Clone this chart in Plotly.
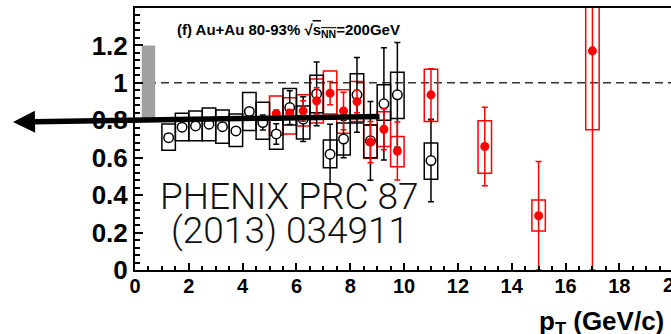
import plotly.graph_objects as go

# ---- data ----
black_x = [1.25, 1.75, 2.25, 2.75, 3.25, 3.75, 4.25, 4.75, 5.25, 5.75, 6.25, 6.75, 7.25, 7.75, 8.25, 8.75, 9.25, 9.75, 11.0]
black_y = [0.707, 0.763, 0.770, 0.779, 0.766, 0.743, 0.847, 0.788, 0.727, 0.868, 0.806, 0.941, 0.619, 0.700, 0.936, 0.690, 0.888, 0.936, 0.585]
black_stat = [0.008, 0.008, 0.008, 0.010, 0.012, 0.015, 0.020, 0.040, 0.055, 0.090, 0.120, 0.170, 0.160, 0.100, 0.200, 0.210, 0.300, 0.280, 0.220]
black_sys_lo = [0.640, 0.690, 0.690, 0.690, 0.677, 0.660, 0.745, 0.699, 0.645, 0.775, 0.700, 0.840, 0.547, 0.615, 0.785, 0.600, 0.800, 0.810, 0.485]
black_sys_hi = [0.780, 0.838, 0.850, 0.865, 0.855, 0.833, 0.948, 0.897, 0.800, 0.970, 0.877, 1.040, 0.695, 0.785, 1.048, 0.775, 0.990, 1.057, 0.678]

red_x = [5.25, 5.75, 6.25, 6.75, 7.25, 7.75, 8.25, 8.75, 9.25, 9.75, 11.0, 13.0, 15.0, 17.0]
red_y = [0.835, 0.838, 0.850, 0.904, 0.945, 0.850, 0.900, 0.683, 0.752, 0.636, 0.936, 0.660, 0.290, 1.171]
red_stat = [0.020, 0.020, 0.055, 0.070, 0.062, 0.100, 0.060, 0.110, 0.110, 0.155, 0.140, 0.210, 0.290, 1.171]
red_sys_lo = [0.720, 0.727, 0.770, 0.785, 0.834, 0.731, 0.793, 0.597, 0.660, 0.552, 0.793, 0.517, 0.209, 0.749]
red_sys_hi = [0.930, 0.920, 0.936, 1.020, 1.064, 0.963, 1.007, 0.775, 0.846, 0.713, 1.073, 0.797, 0.374, 1.593]

box_width = 0.5
norm_band = (0.25, 0.75, 0.80, 1.20)   # x0, x1, y0, y1
x_ticks = list(range(0, 21, 2))
y_ticks = [0, 0.2, 0.4, 0.6, 0.8, 1.0, 1.2]
y_tick_text = ["0", "0.2", "0.4", "0.6", "0.8", "1", "1.2"]

# ---- layout geometry ----
W, H = 671, 334
L, R, T, B = 135, 0, 8, 64
PW, PH = W - L - R, H - T - B
X_MAX = 19.92
Y_MAX = 1.4

def px2paper_x(px):
    return (px - L) / PW

def px2paper_y(py):
    return (H - B - py) / PH

fig = go.Figure()

# systematic boxes
fig.add_trace(go.Bar(
    x=red_x, base=red_sys_lo, y=[h - l for h, l in zip(red_sys_hi, red_sys_lo)],
    width=box_width, marker=dict(color="rgba(0,0,0,0)", line=dict(color="#ff0000", width=1.5)),
    showlegend=False, hoverinfo="skip"))
fig.add_trace(go.Bar(
    x=black_x, base=black_sys_lo, y=[h - l for h, l in zip(black_sys_hi, black_sys_lo)],
    width=box_width, marker=dict(color="rgba(0,0,0,0)", line=dict(color="#000000", width=1.5)),
    showlegend=False, hoverinfo="skip"))

# points with stat errors
fig.add_trace(go.Scatter(
    x=black_x, y=black_y, mode="markers",
    marker=dict(symbol="circle", size=9.5, color="white", line=dict(color="black", width=1.5)),
    error_y=dict(type="data", array=black_stat, color="black", thickness=1.5, width=3),
    showlegend=False))
fig.add_trace(go.Scatter(
    x=red_x, y=red_y, mode="markers",
    marker=dict(symbol="circle", size=9, color="#ff0000", line=dict(width=0)),
    error_y=dict(type="data", array=red_stat, color="#ff0000", thickness=1.5, width=3),
    showlegend=False))

fig.update_layout(
    width=W, height=H, margin=dict(l=L, r=R, t=T, b=B),
    paper_bgcolor="white", plot_bgcolor="white", barmode="overlay",
    shapes=[
        dict(type="rect", xref="x", yref="y", x0=norm_band[0], x1=norm_band[1],
             y0=norm_band[2], y1=norm_band[3], fillcolor="#a0a0a0", line=dict(width=0), layer="below"),
        dict(type="line", xref="paper", yref="y", x0=0, x1=1, y0=1, y1=1,
             line=dict(color="#333333", width=1.5, dash="8px,5px"), layer="below"),
    ],
)

fig.update_xaxes(
    range=[0, X_MAX], showgrid=False, zeroline=False,
    showline=True, linecolor="black", linewidth=2, mirror=True,
    ticks="inside", ticklen=7, tickwidth=1.5, tickcolor="black",
    tickvals=x_ticks, ticktext=[str(v) for v in x_ticks], ticklabelstandoff=-3,
    tickfont=dict(family="Liberation Sans", size=20, color="black", weight="bold"),
    minor=dict(dtick=0.5, ticks="inside", ticklen=4, tickwidth=1.5, tickcolor="black"),
)
fig.update_yaxes(
    range=[0, Y_MAX], showgrid=False, zeroline=False,
    showline=True, linecolor="black", linewidth=2, mirror=False,
    ticks="inside", ticklen=8, tickwidth=1.5, tickcolor="black",
    tickvals=y_ticks, ticktext=y_tick_text,
    tickfont=dict(family="Liberation Sans", size=26, color="black", weight="bold"),
    minor=dict(dtick=0.04, ticks="inside", ticklen=5, tickwidth=1.5, tickcolor="black"),
)

annotations = [
    dict(text="(f) Au+Au 80-93% \u221a<span style='text-decoration:overline'>s<sub>NN</sub></span>=200GeV",
         xref="paper", yref="paper", x=px2paper_x(175), y=px2paper_y(31), xanchor="left", yanchor="middle",
         showarrow=False, font=dict(family="Liberation Sans", size=15, color="black", weight="bold")),
    dict(text="PHENIX PRC 87", xref="paper", yref="paper", x=px2paper_x(289), y=px2paper_y(196),
         xanchor="center", yanchor="middle", showarrow=False,
         font=dict(family="Roboto", size=37, color="#111111", weight=300)),
    dict(text="(2013) 034911", xref="paper", yref="paper", x=px2paper_x(290), y=px2paper_y(230),
         xanchor="center", yanchor="middle", showarrow=False,
         font=dict(family="Roboto", size=37, color="#111111", weight=300)),
    dict(text="<b>p<sub>T</sub> (GeV/c)</b>", xref="paper", yref="paper", x=px2paper_x(666), y=px2paper_y(322),
         xanchor="right", yanchor="middle", showarrow=False,
         font=dict(family="Liberation Sans", size=26, color="black")),
    dict(text="20", xref="paper", yref="paper", x=px2paper_x(674), y=px2paper_y(285),
         xanchor="center", yanchor="middle", showarrow=False,
         font=dict(family="Liberation Sans", size=20, color="black", weight="bold")),
    dict(text="", xref="paper", yref="paper", x=px2paper_x(13), y=px2paper_y(122),
         axref="pixel", ayref="pixel", ax=368, ay=-5.5, showarrow=True,
         arrowhead=2, arrowwidth=5.5, arrowsize=0.8, arrowcolor="black", standoff=0),
]
fig.update_layout(annotations=annotations)

fig.write_html("out.html")
